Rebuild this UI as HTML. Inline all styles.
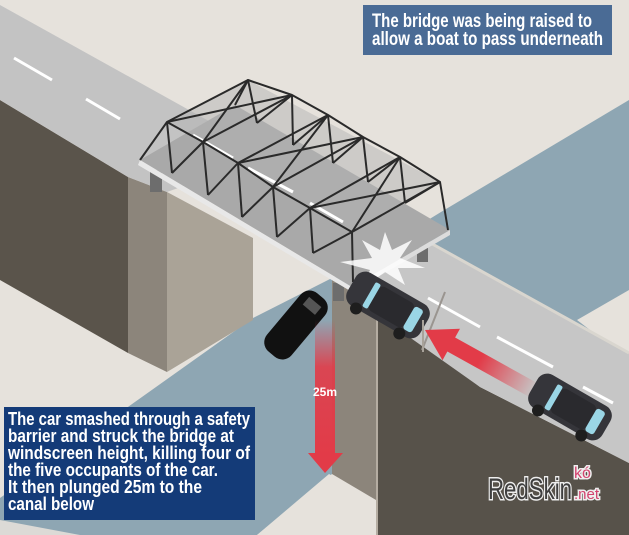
<!DOCTYPE html>
<html><head><meta charset="utf-8"><style>
html,body{margin:0;padding:0;background:#e6e2dc;}
svg{display:block;}
</style></head><body>
<svg width="629" height="535" viewBox="0 0 629 535" xmlns="http://www.w3.org/2000/svg" font-family="'Liberation Sans Narrow','Liberation Sans',sans-serif">
<defs>
<linearGradient id="vg" x1="0" y1="0" x2="0" y2="1">
<stop offset="0" stop-color="#e23b48" stop-opacity="0"/>
<stop offset="0.35" stop-color="#e23b48" stop-opacity="0.9"/>
<stop offset="1" stop-color="#e23b48"/>
</linearGradient>
<linearGradient id="hg" x1="0" y1="0" x2="1" y2="0">
<stop offset="0" stop-color="#e23b48"/>
<stop offset="0.5" stop-color="#e23b48"/>
<stop offset="1" stop-color="#e23b48" stop-opacity="0"/>
</linearGradient>
</defs>
<rect width="629" height="535" fill="#e6e2dc"/>
<!-- water right -->
<polygon points="629,100 441,212 330,280 629,460" fill="#8ea6b3"/>
<polygon points="577,320 629,290 629,360" fill="#e6e2dc"/>
<!-- water left -->
<polygon points="0,498 253,318 332,278 332,474 257,535 0,535" fill="#8ea6b3"/>
<polygon points="0,520 0,535 80,535" fill="#dcdad6"/>
<!-- bottom beige -->
<polygon points="257,535 329,474 377,500 377,535" fill="#e6e2dc"/>
<!-- left walls -->
<polygon points="0,100 128,177 128,353 0,280" fill="#5a544b"/>
<polygon points="128,177 167,192 167,372 128,353" fill="#8c857b"/>
<polygon points="167,192 253,238 253,320 167,372" fill="#aaa397"/>
<!-- central pier -->
<polygon points="332,280 376,305 376,500 332,474" fill="#8c857b"/>
<!-- right dark wall -->
<polygon points="376,305 480,387 629,463 629,535 376,535" fill="#57524a"/>
<line x1="377" y1="305" x2="377" y2="535" stroke="#b5ada2" stroke-width="2"/>
<!-- left road -->
<polygon points="0,5 270,155 167,192 128,177 0,100" fill="#c3c3c3"/>
<!-- right road -->
<polygon points="380,215 629,353 629,463 480,387 347,293" fill="#c6c6c6"/>
<line x1="380" y1="215" x2="629" y2="353" stroke="#d9d6cf" stroke-width="3"/>
<!-- dashes -->
<g stroke="#fff" stroke-width="3">
<line x1="14" y1="58" x2="52" y2="80"/><line x1="86" y1="99" x2="120" y2="119"/>
<line x1="428" y1="298" x2="480" y2="327"/><line x1="497" y1="337" x2="553" y2="367"/><line x1="583" y1="387" x2="613" y2="403"/>
</g>
<!-- pillars -->
<rect x="150" y="170" width="12" height="22" fill="#6d6d6d"/>
<rect x="417" y="248" width="11" height="14" fill="#6d6d6d"/>
<rect x="333" y="283" width="11" height="18" fill="#6d6d6d"/>
<!-- deck -->
<polygon points="140,160 235,105 450,230 352,287" fill="#a9a9a9"/>
<polygon points="140,160 352,287 352,292 138,165" fill="#e8e8e8"/>
<polygon points="352,287 450,230 450,235 352,292" fill="#dcdcdc"/>
<polygon points="167,122 248,80 440,182 352,232" fill="#b4b4b4" opacity="0.5"/>
<g stroke="#fff" stroke-width="3">
<line x1="193" y1="135" x2="233" y2="158"/><line x1="248" y1="168" x2="293" y2="192"/><line x1="310" y1="203" x2="343" y2="222"/>
</g>
<!-- truss -->
<g stroke="#2a2a2a" stroke-width="2" fill="none" stroke-linejoin="round">
<polyline points="140,160 167,122 203,142 238,163 273,187 310,208 352,232 353,282"/>
<polyline points="235,105 248,80 292,95 328,115 363,137 400,157 440,182 448,230"/>
<line x1="167" y1="122" x2="172" y2="173"/><line x1="203" y1="142" x2="208" y2="195"/><line x1="238" y1="163" x2="242" y2="217"/><line x1="273" y1="187" x2="277" y2="237"/><line x1="310" y1="208" x2="313" y2="253"/>
<line x1="292" y1="95" x2="293" y2="145"/><line x1="328" y1="115" x2="333" y2="163"/><line x1="363" y1="137" x2="368" y2="182"/><line x1="400" y1="157" x2="405" y2="203"/>
<line x1="172" y1="173" x2="203" y2="142"/><line x1="208" y1="195" x2="238" y2="163"/><line x1="242" y1="217" x2="273" y2="187"/><line x1="277" y1="237" x2="310" y2="208"/><line x1="313" y1="253" x2="352" y2="232"/>
<line x1="257" y1="123" x2="292" y2="95"/><line x1="293" y1="145" x2="328" y2="115"/><line x1="333" y1="163" x2="363" y2="137"/><line x1="368" y1="182" x2="400" y2="157"/><line x1="405" y1="203" x2="440" y2="182"/>
<line x1="167" y1="122" x2="248" y2="80"/><line x1="203" y1="142" x2="292" y2="95"/><line x1="238" y1="163" x2="328" y2="115"/><line x1="273" y1="187" x2="363" y2="137"/><line x1="310" y1="208" x2="400" y2="157"/><line x1="352" y1="232" x2="440" y2="182"/>
<line x1="167" y1="122" x2="292" y2="95"/><line x1="203" y1="142" x2="248" y2="80"/><line x1="238" y1="163" x2="363" y2="137"/><line x1="273" y1="187" x2="328" y2="115"/><line x1="310" y1="208" x2="440" y2="182"/><line x1="352" y1="232" x2="400" y2="157"/>
<line x1="248" y1="80" x2="257" y2="123"/>
</g>
<!-- crash star -->
<polygon points="385,232 392,250 412,240 400,258 425,268 398,268 405,285 385,272 360,290 370,270 340,262 372,258 362,240 380,250" fill="#fff" opacity="0.85"/>
<!-- crashing car -->
<g transform="translate(388,305) rotate(30)">
<rect x="-42" y="-19" width="84" height="38" rx="11" fill="#35353a"/>
<rect x="-16" y="-14" width="40" height="28" rx="5" fill="#2a2a2e"/>
<rect x="24" y="-13" width="10" height="26" rx="3" fill="#9ad6e6"/>
<rect x="-22" y="-14" width="6" height="28" rx="2" fill="#9ad6e6"/>
<circle cx="-26" cy="19" r="6" fill="#1e1e1e"/><circle cx="24" cy="19" r="6" fill="#1e1e1e"/>
</g>
<!-- barrier pole -->
<line x1="445" y1="292" x2="422" y2="350" stroke="#9a9590" stroke-width="2"/>
<line x1="423" y1="320" x2="423" y2="352" stroke="#a8a29a" stroke-width="2"/>
<!-- falling car -->
<g transform="translate(296,325) rotate(-50)">
<rect x="-38" y="-16" width="76" height="32" rx="12" fill="#111"/>
<rect x="20" y="-8" width="10" height="16" fill="#555"/>
</g>
<!-- vertical arrow -->
<rect x="315" y="320" width="20" height="135" fill="url(#vg)"/>
<polygon points="308,453 343,453 325,473" fill="#e23b48"/>
<text x="325" y="396" fill="#fff" font-size="12" font-weight="bold" text-anchor="middle">25m</text>
<!-- diagonal arrow -->
<g transform="translate(425,330) rotate(29)">
<polygon points="0,0 30,-18 30,-8 125,-8 125,8 30,8 30,18" fill="url(#hg)"/>
</g>
<!-- right car -->
<g transform="translate(570,407) rotate(30)">
<rect x="-42" y="-19" width="84" height="38" rx="11" fill="#35353a"/>
<rect x="-16" y="-14" width="40" height="28" rx="5" fill="#2a2a2e"/>
<rect x="24" y="-13" width="10" height="26" rx="3" fill="#9ad6e6"/>
<rect x="-22" y="-14" width="6" height="28" rx="2" fill="#9ad6e6"/>
<circle cx="-26" cy="19" r="6" fill="#1e1e1e"/><circle cx="24" cy="19" r="6" fill="#1e1e1e"/>
</g>
<!-- watermark -->
<text x="488" y="499" font-size="30" fill="#3f3f3f" stroke="#eee" stroke-width="3" paint-order="stroke" font-family="'Liberation Sans',sans-serif" textLength="84" lengthAdjust="spacingAndGlyphs">RedSkin</text>
<text x="574" y="478" font-size="16" fill="#d2436e" stroke="#eee" stroke-width="3" paint-order="stroke" font-family="'Liberation Sans',sans-serif">kó</text>
<text x="574" y="499" font-size="15" fill="#d2436e" stroke="#eee" stroke-width="3" paint-order="stroke" font-family="'Liberation Sans',sans-serif">.net</text>
<!-- top box -->
<rect x="363" y="5" width="249" height="50" fill="#4a6b95"/>
<g fill="#fff" font-weight="bold" font-size="19">
<text x="372" y="27" textLength="220" lengthAdjust="spacingAndGlyphs">The bridge was being raised to</text>
<text x="372" y="45" textLength="231" lengthAdjust="spacingAndGlyphs">allow a boat to pass underneath</text>
</g>
<!-- bottom box -->
<rect x="4" y="407" width="251" height="113" fill="#143b78"/>
<g fill="#fff" font-weight="bold" font-size="18">
<text x="8" y="425" textLength="242" lengthAdjust="spacingAndGlyphs">The car smashed through a safety</text>
<text x="8" y="442" textLength="226" lengthAdjust="spacingAndGlyphs">barrier and struck the bridge at</text>
<text x="8" y="459" textLength="242" lengthAdjust="spacingAndGlyphs">windscreen height, killing four of</text>
<text x="8" y="476" textLength="210" lengthAdjust="spacingAndGlyphs">the five occupants of the car.</text>
<text x="8" y="493" textLength="194" lengthAdjust="spacingAndGlyphs">It then plunged 25m to the</text>
<text x="8" y="510" textLength="86" lengthAdjust="spacingAndGlyphs">canal below</text>
</g>
</svg>
</body></html>
